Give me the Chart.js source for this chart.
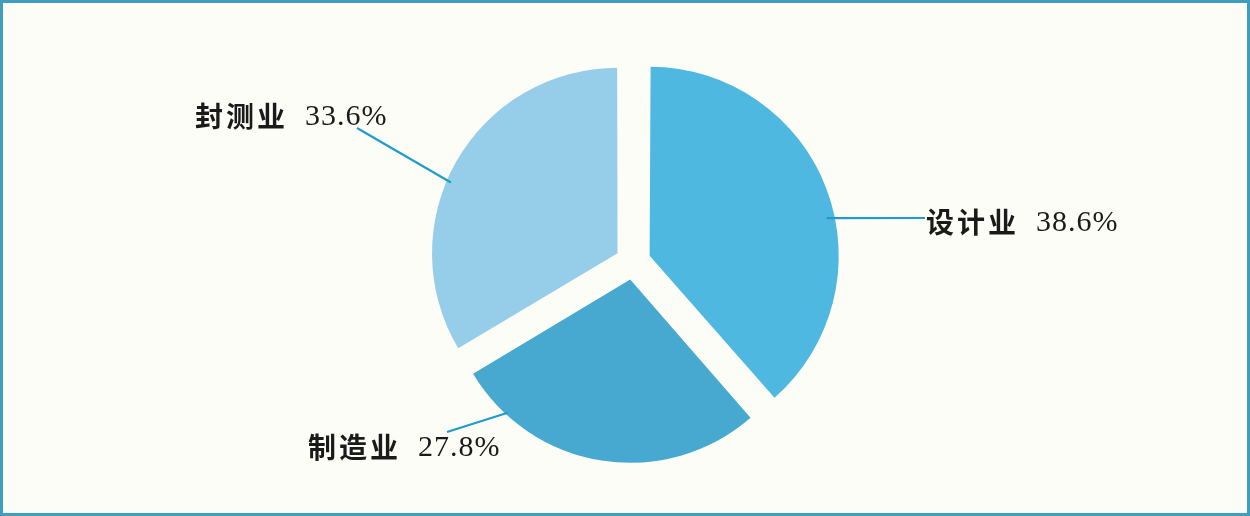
<!DOCTYPE html>
<html>
<head>
<meta charset="utf-8">
<script src="https://cdn.jsdelivr.net/npm/chart.js@4/dist/chart.umd.min.js"></script>
<style>
  html, body { margin: 0; padding: 0; background: #fdfdf8; }
  #wrap { width: 1250px; height: 516px; }
</style>
</head>
<body>
<div id="wrap"><canvas id="c" width="1250" height="516"></canvas></div>
<script>
// ---- data ----
const categories = ['设计业', '制造业', '封测业'];
const shares = [38.6, 27.8, 33.6];
const shareLabels = ['38.6%', '27.8%', '33.6%'];

// ---- styles / layout ----
const sliceColors = ['#4fb8e0', '#47a9d0', '#96cee9'];
const leaderColor = '#1f9ccb';
// angle (deg, canvas coords) on each slice edge where the leader line starts
const anchorAngles = [-12, 132.6, -157];
// leader line outer end and text placement
const labelLayout = [
  { lineEnd: [925, 218], textX: 926, textY: 222 },
  { lineEnd: [447, 432], textX: 308, textY: 447 },
  { lineEnd: [357, 128], textX: 195, textY: 116 }
];

const frame = {
  id: 'frame',
  beforeDraw(chart) {
    const ctx = chart.ctx;
    ctx.save();
    ctx.fillStyle = '#fdfdf8';
    ctx.fillRect(0, 0, chart.width, chart.height);
    ctx.restore();
  },
  afterDraw(chart) {
    const ctx = chart.ctx;
    ctx.save();
    ctx.strokeStyle = '#3f9dbd';
    ctx.lineWidth = 3;
    ctx.strokeRect(1.5, 1.5, chart.width - 3, chart.height - 3);
    ctx.restore();
  }
};

const callouts = {
  id: 'callouts',
  afterDatasetsDraw(chart) {
    const ctx = chart.ctx;
    const meta = chart.getDatasetMeta(0);
    meta.data.forEach((arc, i) => {
      const off = (arc.options.offset || 0) / 4;
      const mid = (arc.startAngle + arc.endAngle) / 2;
      const cx = arc.x + Math.cos(mid) * off;
      const cy = arc.y + Math.sin(mid) * off;
      const a = anchorAngles[i] * Math.PI / 180;
      const r = arc.outerRadius - 2;
      const ex = cx + Math.cos(a) * r;
      const ey = cy + Math.sin(a) * r;
      const L = labelLayout[i];
      ctx.save();
      ctx.strokeStyle = leaderColor;
      ctx.lineWidth = 2.2;
      ctx.beginPath();
      ctx.moveTo(L.lineEnd[0], L.lineEnd[1]);
      ctx.lineTo(ex, ey);
      ctx.stroke();

      ctx.fillStyle = '#1a1a1a';
      ctx.textBaseline = 'middle';
      ctx.textAlign = 'left';
      ctx.font = 'bold 28px "Noto Sans CJK SC"';
      if ('letterSpacing' in ctx) ctx.letterSpacing = '3px';
      ctx.fillText(categories[i], L.textX, L.textY);
      const w = ctx.measureText(categories[i]).width;
      ctx.font = '30px "Liberation Serif"';
      if ('letterSpacing' in ctx) ctx.letterSpacing = '1px';
      ctx.fillText(shareLabels[i], L.textX + w + 17, L.textY + 1);
      ctx.restore();
    });
  }
};

new Chart(document.getElementById('c'), {
  type: 'pie',
  data: {
    labels: categories,
    datasets: [{
      data: shares,
      backgroundColor: sliceColors,
      borderWidth: 0,
      offset: 71,
      radius: 183
    }]
  },
  options: {
    responsive: false,
    animation: false,
    devicePixelRatio: 1,
    layout: { padding: { left: 16, top: 8, right: 0, bottom: 0 } },
    plugins: { legend: { display: false }, tooltip: { enabled: false } },
    events: []
  },
  plugins: [frame, callouts]
});
</script>
</body>
</html>
